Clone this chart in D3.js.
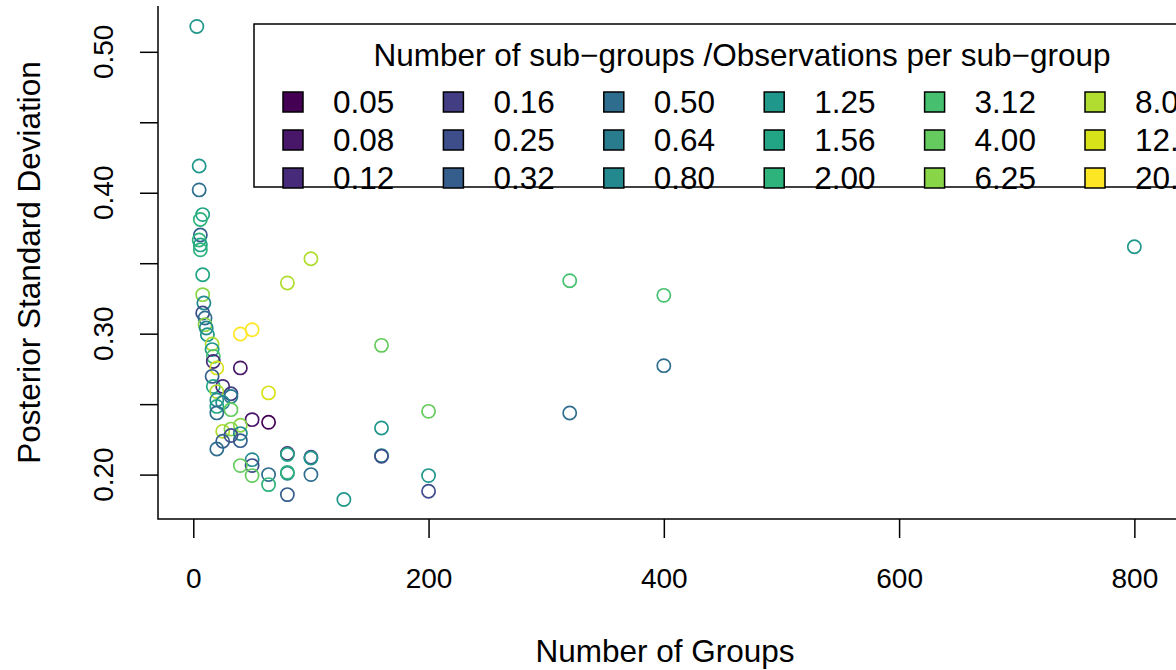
<!DOCTYPE html>
<html>
<head>
<meta charset="utf-8">
<script src="https://cdn.jsdelivr.net/npm/d3@7"></script>
<style>
  html, body { margin: 0; padding: 0; background: #fff; }
  svg { display: block; font-family: "Liberation Sans", Arial, Helvetica, sans-serif; }
</style>
</head>
<body>
<svg id="chart" width="1176" height="670"></svg>
<script>
// Ratio categories (sub-groups / observations per sub-group), in legend order
const ratioLabels = ["0.05", "0.08", "0.12", "0.16", "0.25", "0.32",
                     "0.50", "0.64", "0.80", "1.25", "1.56", "2.00",
                     "3.12", "4.00", "6.25", "8.00", "12.50", "20.00"];

// Simulation results: number of groups, posterior SD, ratio category
const groups = [
  3, 5, 5, 8, 6, 6, 5, 6, 6, 8,
  80, 100, 8, 9, 8, 10, 10, 11, 12, 40,
  50, 16, 16, 17, 17, 20, 40, 16, 17, 25,
  20, 32, 32, 64, 20, 25, 20, 32, 20, 50,
  64, 25, 32, 40, 40, 40, 32, 25, 20, 80,
  80, 100, 100, 50, 50, 40, 50, 64, 64, 80,
  80, 100, 80, 128, 160, 160, 160, 160, 200, 200,
  200, 320, 400, 400, 320, 800
];
const postSD = [
  0.518, 0.419, 0.402, 0.3845, 0.381, 0.370, 0.3665, 0.363, 0.3595, 0.3418,
  0.336, 0.3532, 0.3277, 0.3218, 0.3147, 0.3111, 0.3064, 0.304, 0.2993, 0.2998,
  0.3028, 0.2927, 0.2887, 0.2839, 0.2803, 0.2757, 0.2757, 0.2697, 0.2626, 0.2626,
  0.2589, 0.2574, 0.2555, 0.2580, 0.2530, 0.2512, 0.2484, 0.2461, 0.2438, 0.2390,
  0.2371, 0.2307, 0.2323, 0.2350, 0.2291, 0.2241, 0.2277, 0.2237, 0.2182, 0.2150,
  0.2143, 0.2123, 0.2118, 0.2106, 0.2064, 0.2064, 0.1993, 0.2000, 0.1929, 0.2009,
  0.2016, 0.2000, 0.1858, 0.1823, 0.2331, 0.2135, 0.2130, 0.2917, 0.2449, 0.1993,
  0.1882, 0.3376, 0.3272, 0.2773, 0.2437, 0.3617
];
const ratio = [
  "1.25", "1.25", "0.50", "1.56", "2.00", "0.32", "2.00", "1.56", "2.00", "1.56",
  "8.00", "8.00", "6.25", "0.80", "0.25", "0.50", "6.25", "0.80", "1.25", "20.00",
  "20.00", "8.00", "1.25", "3.12", "0.12", "12.50", "0.08", "0.32", "1.56", "0.12",
  "8.00", "0.16", "0.64", "12.50", "0.80", "0.80", "1.56", "4.00", "0.50", "0.08",
  "0.05", "8.00", "6.25", "6.25", "0.80", "0.32", "0.25", "0.32", "0.50", "0.12",
  "1.56", "0.16", "1.25", "0.80", "0.25", "4.00", "4.00", "0.50", "2.00", "0.80",
  "2.00", "0.50", "0.32", "1.25", "1.25", "1.25", "0.25", "4.00", "4.00", "1.25",
  "0.25", "3.12", "3.12", "0.50", "0.50", "1.25"
];

const xTicks = [0, 200, 400, 600, 800];
const yTicks = [0.20, 0.25, 0.30, 0.35, 0.40, 0.45, 0.50];
const yTickLabels = [0.20, 0.30, 0.40, 0.50];

const svg = d3.select("#chart");
const W = 1176, H = 670;
const plot = { left: 158, right: 1172, top: 6, bottom: 519 };

const x = d3.scaleLinear().domain([-30, 832]).range([plot.left, plot.right]);
const y = d3.scaleLinear().domain([0.1685, 0.5325]).range([plot.bottom, plot.top]);

const color = d3.scaleOrdinal()
  .domain(ratioLabels)
  .range(ratioLabels.map((d, i) => d3.interpolateViridis(i / (ratioLabels.length - 1))));

// L-shaped frame
svg.append("path")
  .attr("d", `M${plot.left},${plot.top}V${plot.bottom}H${W + 5}`)
  .attr("fill", "none").attr("stroke", "#000").attr("stroke-width", 1.5);

// X axis
const xAxis = d3.axisBottom(x).tickValues(xTicks).tickSize(19).tickPadding(30)
  .tickFormat(d3.format("d"));
const gx = svg.append("g").attr("transform", `translate(0,${plot.bottom})`).call(xAxis);
gx.select(".domain").remove();
gx.selectAll(".tick line").attr("stroke", "#000").attr("stroke-width", 1.5);
gx.selectAll(".tick text").attr("font-size", 28).attr("fill", "#000")
  .attr("font-family", "Liberation Sans, Arial, sans-serif");

// Y axis (tick marks every 0.05, labels every 0.10)
const yAxis = d3.axisLeft(y).tickValues(yTicks).tickSize(18).tickFormat("");
const gy = svg.append("g").attr("transform", `translate(${plot.left},0)`).call(yAxis);
gy.select(".domain").remove();
gy.selectAll(".tick line").attr("stroke", "#000").attr("stroke-width", 1.5);

svg.append("g").selectAll("text").data(yTickLabels).join("text")
  .attr("transform", d => `translate(${103},${y(d)}) rotate(-90)`)
  .attr("text-anchor", "middle").attr("dominant-baseline", "central")
  .attr("font-size", 28).attr("fill", "#000")
  .text(d => d3.format(".2f")(d));

// Axis titles
svg.append("text")
  .attr("x", (plot.left + plot.right) / 2).attr("y", 651)
  .attr("text-anchor", "middle").attr("dominant-baseline", "central")
  .attr("font-size", 31.5).text("Number of Groups");

svg.append("text")
  .attr("transform", `translate(29,${(plot.top + plot.bottom) / 2}) rotate(-90)`)
  .attr("text-anchor", "middle").attr("dominant-baseline", "central")
  .attr("font-size", 31.5).text("Posterior Standard Deviation");

// Points: open circles coloured by ratio
const pts = groups.map((g, i) => ({ g, sd: postSD[i], r: ratio[i] }));
svg.append("g").selectAll("circle").data(pts).join("circle")
  .attr("cx", d => x(d.g)).attr("cy", d => y(d.sd)).attr("r", 6.6)
  .attr("fill", "none").attr("stroke", d => color(d.r)).attr("stroke-width", 1.7);

// Legend
const leg = svg.append("g");
leg.append("rect")
  .attr("x", 254).attr("y", 24).attr("width", 960).attr("height", 163)
  .attr("fill", "#fff").attr("stroke", "#000").attr("stroke-width", 1.5);
leg.append("text")
  .attr("x", 742).attr("y", 55)
  .attr("text-anchor", "middle").attr("dominant-baseline", "central")
  .attr("font-size", 31.5).text("Number of sub\u2212groups /Observations per sub\u2212group");

const colStep = 160.4, rowStep = 38;
const items = leg.selectAll("g.item").data(ratioLabels).join("g")
  .attr("class", "item")
  .attr("transform", (d, i) => `translate(${283 + Math.floor(i / 3) * colStep},${102 + (i % 3) * rowStep})`);
items.append("rect")
  .attr("x", 0).attr("y", -10).attr("width", 20).attr("height", 20)
  .attr("fill", d => color(d)).attr("stroke", "#000").attr("stroke-width", 1.5);
items.append("text")
  .attr("x", 50).attr("y", 0).attr("dominant-baseline", "central")
  .attr("font-size", 31.5).text(d => d);
</script>
</body>
</html>
